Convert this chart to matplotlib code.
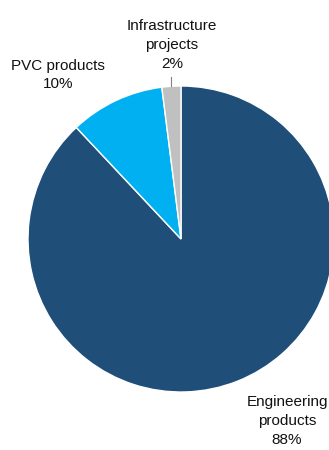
import matplotlib
matplotlib.use("Agg")
import matplotlib.pyplot as plt
from matplotlib import font_manager

categories = ["Engineering\nproducts", "PVC products", "Infrastructure\nprojects"]
values = [88, 10, 2]
colors = ["#1f4e79", "#00b0f0", "#c0c0c0"]

names = {f.name for f in font_manager.fontManager.ttflist}
fam = "Liberation Sans Narrow" if "Liberation Sans Narrow" in names else "Liberation Sans"
plt.rcParams["font.family"] = [fam, "DejaVu Sans"]

W, H = 329, 450
fig = plt.figure(figsize=(W / 100, H / 100), dpi=100)
cx, cy, r = 181, 239, 153
ax = fig.add_axes([(cx - r) / W, 1 - (cy + r) / H, 2 * r / W, 2 * r / H])
ax.pie(values, colors=colors, startangle=90, counterclock=False,
       wedgeprops=dict(edgecolor="white", linewidth=1))
ax.set_xlim(-1, 1)
ax.set_ylim(-1, 1)
ax.set_aspect("equal")
ax.axis("off")
for p in ax.patches:
    p.set_clip_on(False)

fs = 11
ls = 1.45
def lab(i):
    return f"{categories[i]}\n{values[i]}%"
fig.text(287 / W, 1 - 421 / H, lab(0), ha="center", va="center", fontsize=fs, linespacing=ls, color="#111111")
fig.text(58 / W, 1 - 75 / H, lab(1), ha="center", va="center", fontsize=fs, linespacing=ls, color="#111111")
fig.text(172 / W, 1 - 45 / H, lab(2), ha="center", va="center", fontsize=fs, linespacing=ls, color="#111111")
fig.add_artist(plt.Line2D([171 / W, 171 / W], [1 - 77 / H, 1 - 86 / H], color="#808080", lw=0.8))

fig.savefig("out.png", dpi=100)
